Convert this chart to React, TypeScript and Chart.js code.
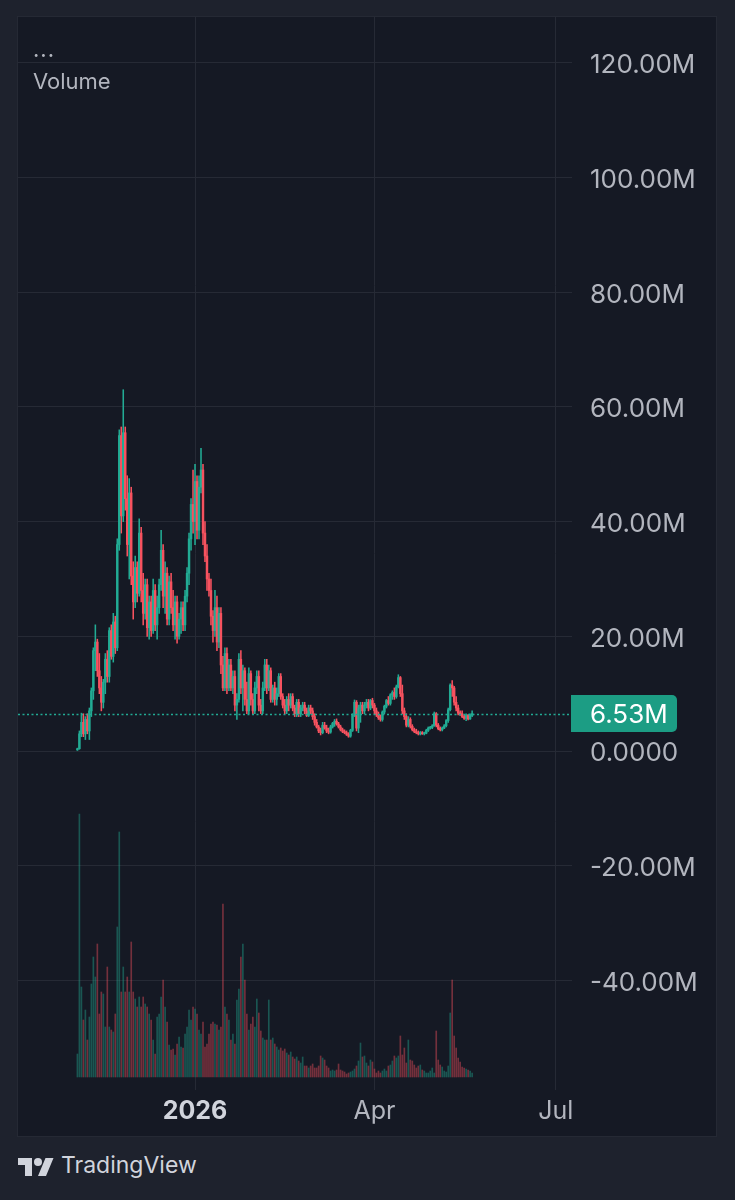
import React, { useEffect, useRef } from "react";
import { Chart, registerables } from "chart.js";

Chart.register(...registerables);

// Day offsets are counted from 1 Jan 2026 (day 0). First candle is day startDay.
const startDay = -59;

const opens = [
  0.2, 0.4, 3.0, 5.0, 3.0, 5.5, 3.5, 7.0, 10.5, 17.5,
  19.0, 14.0, 11.0, 8.5, 12.0, 16.0, 13.0, 21.0, 16.5, 22.5,
  18.0, 36.0, 55.0, 41.0, 55.5, 44.0, 36.0, 45.0, 30.5, 26.0,
  32.0, 27.5, 38.0, 28.0, 24.0, 29.0, 21.5, 26.0, 21.0, 28.0,
  22.0, 25.0, 29.0, 35.0, 27.0, 31.0, 23.0, 29.5, 25.0, 22.0,
  26.0, 20.0, 23.0, 25.0, 22.0, 27.0, 31.0, 37.0, 43.0, 40.0,
  47.0, 38.5, 46.0, 49.0, 38.0, 34.0, 30.0, 28.0, 23.5, 21.0,
  25.0, 19.0, 24.0, 15.0, 11.0, 17.0, 11.0, 15.0, 11.0, 13.0,
  8.0, 9.0, 16.0, 11.0, 14.0, 9.0, 7.0, 13.5, 9.0, 7.0,
  11.0, 13.0, 8.0, 7.0, 11.0, 15.0, 11.0, 14.0, 9.0, 11.0,
  9.0, 10.0, 13.0, 9.5, 8.0, 7.0, 9.0, 8.0, 9.5, 7.5,
  6.5, 8.5, 6.5, 7.5, 8.0, 7.0, 6.2, 7.5, 7.0, 6.0,
  5.0, 4.2, 3.5, 3.2, 4.5, 4.0, 3.5, 3.3, 4.2, 4.8,
  5.2, 4.7, 4.2, 3.7, 3.4, 3.2, 2.9, 2.6, 3.6, 6.2,
  8.5, 4.0, 7.5, 8.0, 7.0, 8.0, 8.5, 7.5, 8.8, 8.0,
  7.0, 6.3, 5.8, 5.5, 6.8, 7.8, 8.8, 8.3, 9.8, 10.2,
  9.5, 11.2, 12.8, 10.0, 7.0, 6.0, 4.5, 5.5, 4.3, 3.7,
  3.4, 3.2, 3.0, 3.2, 3.0, 3.1, 3.6, 4.0, 4.1, 4.4,
  6.5, 4.5, 3.9, 3.7, 4.0, 4.4, 5.3, 7.2, 11.5, 11.0,
  8.5, 7.5, 6.6, 6.5, 6.0, 5.7, 6.2, 5.6, 6.2,
];

const highs = [
  0.5, 3.5, 6.6, 6.5, 6.0, 6.5, 7.5, 11.0, 18.0, 22.0,
  19.5, 17.0, 13.0, 12.5, 17.0, 17.5, 21.5, 22.0, 24.0, 23.5,
  37.0, 56.0, 56.5, 63.0, 56.5, 48.0, 47.5, 46.0, 33.0, 34.0,
  33.0, 40.5, 39.0, 31.0, 30.0, 30.0, 27.0, 27.0, 30.0, 29.0,
  27.0, 30.0, 38.5, 36.0, 33.0, 32.0, 30.5, 31.0, 28.0, 27.0,
  27.0, 24.0, 26.0, 26.0, 28.0, 32.0, 38.0, 44.0, 49.0, 50.0,
  48.0, 48.0, 52.8, 50.0, 40.0, 36.0, 31.0, 30.0, 24.5, 28.0,
  27.0, 25.0, 25.0, 16.5, 18.0, 18.0, 16.0, 16.0, 14.0, 14.0,
  10.0, 17.0, 17.5, 15.0, 14.5, 12.0, 14.5, 14.0, 10.0, 12.0,
  14.0, 14.0, 9.0, 12.0, 16.0, 16.0, 15.0, 14.5, 11.5, 12.0,
  11.0, 13.5, 13.5, 10.0, 9.0, 9.5, 10.0, 10.0, 10.0, 8.0,
  9.0, 9.0, 8.0, 8.5, 8.5, 7.5, 8.0, 8.0, 7.5, 6.5,
  5.5, 4.5, 4.0, 5.0, 5.0, 4.5, 4.0, 4.5, 5.0, 5.5,
  5.6, 5.0, 4.5, 4.0, 3.7, 3.5, 3.2, 3.8, 6.5, 8.9,
  8.8, 8.0, 8.5, 8.5, 8.5, 9.0, 9.0, 9.0, 9.2, 8.3,
  7.5, 6.8, 6.3, 7.0, 8.0, 9.0, 9.5, 10.0, 10.5, 11.0,
  11.5, 13.3, 13.0, 11.5, 7.5, 6.5, 6.0, 5.8, 4.6, 4.0,
  3.8, 3.5, 3.4, 3.4, 3.3, 3.8, 4.2, 4.3, 4.6, 6.8,
  6.7, 4.8, 4.2, 4.2, 4.6, 5.5, 7.5, 11.7, 12.3, 11.3,
  9.5, 8.0, 7.0, 7.0, 6.3, 6.5, 6.4, 6.5, 7.0,
];

const lows = [
  0.1, 0.3, 2.5, 2.5, 2.0, 3.0, 2.0, 6.0, 9.0, 14.0,
  13.0, 10.0, 7.0, 7.5, 10.0, 12.0, 12.0, 16.0, 15.5, 17.0,
  17.5, 35.0, 38.0, 40.0, 42.0, 34.0, 30.0, 29.0, 23.0, 25.0,
  26.0, 27.0, 26.0, 22.0, 23.0, 20.0, 19.5, 20.0, 20.5, 21.0,
  19.5, 24.0, 28.0, 25.0, 24.0, 22.0, 22.0, 24.0, 21.0, 19.5,
  18.8, 19.5, 20.5, 21.0, 21.0, 26.0, 29.0, 35.0, 38.0, 36.0,
  37.0, 37.0, 45.0, 36.0, 33.0, 28.0, 27.0, 22.0, 19.0, 20.0,
  17.5, 18.0, 13.5, 10.5, 10.5, 10.0, 10.5, 10.5, 10.0, 7.0,
  5.5, 8.5, 10.0, 7.0, 8.0, 6.5, 6.5, 8.0, 6.5, 6.5,
  10.0, 7.0, 6.5, 6.5, 10.5, 10.0, 10.5, 8.5, 8.5, 8.0,
  8.0, 9.5, 9.0, 7.5, 6.5, 6.5, 7.0, 7.5, 7.0, 6.0,
  6.0, 6.0, 6.0, 7.0, 6.5, 6.0, 6.0, 6.5, 5.5, 4.5,
  4.0, 3.2, 2.8, 3.0, 3.8, 3.2, 3.0, 3.1, 4.0, 4.3,
  4.5, 4.0, 3.5, 3.2, 3.0, 2.7, 2.4, 2.4, 3.4, 6.0,
  3.5, 3.2, 5.0, 6.5, 6.5, 7.5, 7.0, 7.2, 7.5, 6.5,
  6.0, 5.5, 5.2, 5.2, 6.5, 7.5, 8.0, 8.0, 9.0, 9.0,
  9.2, 11.0, 9.5, 6.5, 5.5, 4.2, 4.2, 4.0, 3.5, 3.2,
  3.0, 2.8, 2.8, 2.9, 2.8, 3.0, 3.4, 3.8, 3.9, 4.3,
  4.2, 3.7, 3.5, 3.5, 3.9, 4.2, 5.0, 7.0, 9.5, 8.0,
  7.0, 6.3, 6.2, 5.8, 5.5, 5.3, 5.4, 5.5, 6.0,
];

const closes = [
  0.4, 3.0, 5.0, 3.0, 5.5, 3.5, 7.0, 10.5, 17.5, 19.0,
  14.0, 11.0, 8.5, 12.0, 16.0, 13.0, 21.0, 16.5, 22.5, 18.0,
  36.0, 55.0, 41.0, 55.5, 44.0, 36.0, 45.0, 30.5, 26.0, 32.0,
  27.5, 38.0, 28.0, 24.0, 29.0, 21.5, 26.0, 21.0, 28.0, 22.0,
  25.0, 29.0, 35.0, 27.0, 31.0, 23.0, 29.5, 25.0, 22.0, 26.0,
  20.0, 23.0, 25.0, 22.0, 27.0, 31.0, 37.0, 43.0, 40.0, 47.0,
  38.5, 46.0, 49.0, 38.0, 34.0, 30.0, 28.0, 23.5, 21.0, 25.0,
  19.0, 24.0, 15.0, 11.0, 17.0, 11.0, 15.0, 11.0, 13.0, 8.0,
  9.0, 16.0, 11.0, 14.0, 9.0, 7.0, 13.5, 9.0, 7.0, 11.0,
  13.0, 8.0, 7.0, 11.0, 15.0, 11.0, 14.0, 9.0, 11.0, 9.0,
  10.0, 13.0, 9.5, 8.0, 7.0, 9.0, 8.0, 9.5, 7.5, 6.5,
  8.5, 6.5, 7.5, 8.0, 7.0, 6.2, 7.5, 7.0, 6.0, 5.0,
  4.2, 3.5, 3.2, 4.5, 4.0, 3.5, 3.3, 4.2, 4.8, 5.2,
  4.7, 4.2, 3.7, 3.4, 3.2, 2.9, 2.6, 3.6, 6.2, 8.5,
  4.0, 7.5, 8.0, 7.0, 8.0, 8.5, 7.5, 8.8, 8.0, 7.0,
  6.3, 5.8, 5.5, 6.8, 7.8, 8.8, 8.3, 9.8, 10.2, 9.5,
  11.2, 12.8, 10.0, 7.0, 6.0, 4.5, 5.5, 4.3, 3.7, 3.4,
  3.2, 3.0, 3.2, 3.0, 3.1, 3.6, 4.0, 4.1, 4.4, 6.5,
  4.5, 3.9, 3.7, 4.0, 4.4, 5.3, 7.2, 11.5, 11.0, 8.5,
  7.5, 6.6, 6.5, 6.0, 5.7, 6.2, 5.6, 6.2, 6.53,
];

// Volume, in millions (own overlay scale at the bottom)
const volumes = [
  2.3, 26.3, 9.0, 5.7, 6.7, 3.7, 6.0, 9.3, 12.0, 10.0,
  13.3, 6.3, 8.5, 8.3, 5.0, 11.0, 5.0, 4.7, 4.5, 6.3,
  15.0, 24.5, 8.5, 11.0, 8.5, 10.0, 8.5, 13.5, 8.5, 7.8,
  7.0, 8.0, 7.0, 8.0, 7.3, 7.0, 6.3, 5.7, 3.7, 2.3,
  6.0, 6.3, 8.0, 9.7, 7.0, 5.5, 3.2, 2.7, 2.8, 2.2,
  3.3, 4.0, 3.0, 2.9, 4.3, 5.0, 6.7, 5.7, 7.0, 6.8,
  6.3, 4.7, 4.3, 5.5, 3.0, 3.3, 4.3, 5.3, 5.5, 5.3,
  5.2, 4.7, 5.0, 17.3, 7.0, 6.3, 5.7, 3.7, 4.3, 3.3,
  7.7, 8.8, 12.0, 13.3, 9.7, 6.3, 4.7, 5.3, 6.0, 5.0,
  7.8, 6.4, 4.6, 3.9, 3.7, 3.7, 7.7, 3.7, 3.9, 3.3,
  3.0, 2.7, 2.9, 2.6, 2.8, 2.4, 2.2, 2.5, 2.0, 1.8,
  2.0, 1.6, 1.4, 2.0, 1.1, 1.1, 0.9, 1.1, 1.3, 0.9,
  0.9, 1.1, 2.1, 1.9, 1.7, 1.1, 0.9, 0.6, 0.7, 0.6,
  0.7, 1.3, 0.7, 0.6, 0.5, 0.3, 0.4, 0.5, 0.6, 0.8,
  1.1, 1.6, 3.4, 2.0, 2.1, 1.4, 1.1, 1.7, 1.5, 0.8,
  0.4, 0.6, 0.4, 0.6, 0.8, 0.6, 1.1, 1.2, 1.6, 2.1,
  1.9, 2.1, 4.1, 2.2, 2.9, 1.4, 3.7, 1.7, 1.6, 1.2,
  0.9, 1.1, 1.2, 0.7, 0.6, 0.4, 0.4, 0.6, 0.9, 0.4,
  4.6, 1.7, 1.2, 1.0, 0.6, 0.5, 1.1, 6.4, 9.7, 4.1,
  2.9, 1.9, 1.5, 1.0, 0.9, 0.8, 0.7, 0.6, 0.4,
];

const xTickDays = [0, 90, 181];
const xTickLabels = ["2026", "Apr", "Jul"];
const yTickValues = [-40, -20, 0, 20, 40, 60, 80, 100, 120];

const UP = "#22ab94";
const DOWN = "#f7525f";
const UP_VOL = "rgba(34,171,148,0.42)";
const DOWN_VOL = "rgba(247,82,95,0.42)";
const GRID = "#262a35";
const AXIS_TEXT = "#b2b5be";
const FONT = "Inter, 'Noto Sans', sans-serif";

const fmtY = (v: number) => (v === 0 ? "0.0000" : v.toFixed(2) + "M");

const lastPricePlugin = {
  id: "lastPrice",
  afterDatasetsDraw(chart: any) {
    const { ctx, chartArea } = chart;
    const last = closes[closes.length - 1];
    const y = Math.round(chart.scales.y.getPixelForValue(last)) + 0.5;
    ctx.save();
    ctx.strokeStyle = UP;
    ctx.lineWidth = 1.5;
    ctx.setLineDash([2, 2.5]);
    ctx.beginPath();
    ctx.moveTo(chartArea.left, y);
    ctx.lineTo(chartArea.right, y);
    ctx.stroke();
    ctx.restore();
  },
  afterDraw(chart: any) {
    const { ctx, chartArea } = chart;
    const last = closes[closes.length - 1];
    const y = chart.scales.y.getPixelForValue(last);
    ctx.save();
    ctx.fillStyle = "#1c9d84";
    ctx.beginPath();
    (ctx as any).roundRect(chartArea.right - 1, y - 18.5, 106, 37, [0, 5, 5, 0]);
    ctx.fill();
    ctx.fillStyle = "#ffffff";
    ctx.font = `26px ${FONT}`;
    ctx.textAlign = "left";
    ctx.textBaseline = "middle";
    ctx.fillText(fmtY(last), chartArea.right + 18, y + 1.5);
    ctx.restore();
  },
};

export default function App() {
  const canvasRef = useRef<HTMLCanvasElement | null>(null);

  useEffect(() => {
    let chart: Chart | null = null;
    let cancelled = false;

    const build = () => {
      if (cancelled || !canvasRef.current) return;
      const days = closes.map((_, i) => startDay + i);
      const isUp = closes.map((c, i) => c >= opens[i]);

      chart = new Chart(canvasRef.current, {
        type: "bar",
        data: {
          datasets: [
            {
              label: "Bodies",
              data: days.map((d, i) => ({
                x: d,
                y: [Math.min(opens[i], closes[i]), Math.max(opens[i], closes[i])],
              })) as any,
              backgroundColor: isUp.map((u) => (u ? UP : DOWN)),
              barThickness: 1.8,
              minBarLength: 1,
              grouped: false,
              borderWidth: 0,
              yAxisID: "y",
              order: 1,
            },
            {
              label: "Wicks",
              data: days.map((d, i) => ({ x: d, y: [lows[i], highs[i]] })) as any,
              backgroundColor: isUp.map((u) => (u ? UP : DOWN)),
              barThickness: 0.9,
              grouped: false,
              borderWidth: 0,
              yAxisID: "y",
              order: 2,
            },
            {
              label: "Volume",
              data: days.map((d, i) => ({ x: d, y: volumes[i] })) as any,
              backgroundColor: isUp.map((u) => (u ? UP_VOL : DOWN_VOL)),
              barThickness: 1,
              grouped: false,
              borderWidth: 0,
              yAxisID: "y2",
              order: 3,
            },
          ],
        },
        options: {
          animation: false,
          responsive: true,
          maintainAspectRatio: false,
          events: [],
          layout: { padding: 0 },
          plugins: {
            legend: { display: false },
            tooltip: { enabled: false },
          },
          scales: {
            x: {
              type: "linear",
              min: -88.8,
              max: 189.1,
              offset: false,
              grid: { color: GRID, drawTicks: false, offset: false, lineWidth: 1 },
              border: { display: false },
              afterBuildTicks: (s: any) => {
                s.ticks = xTickDays.map((v) => ({ value: v }));
              },
              afterFit: (s: any) => {
                s.height = 46;
                s.paddingLeft = 0;
                s.paddingRight = 0;
              },
              ticks: {
                autoSkip: false,
                maxRotation: 0,
                padding: 6,
                color: (c: any) => (c.index === 0 ? "#d1d4dc" : AXIS_TEXT),
                font: (c: any) => ({
                  family: FONT,
                  size: 25,
                  weight: c.index === 0 ? "bold" : "normal",
                }),
                callback: (_v: any, i: number) => xTickLabels[i],
              },
            },
            y: {
              type: "linear",
              position: "right",
              min: -59.11,
              max: 127.99,
              grid: { color: GRID, drawTicks: false, lineWidth: 1 },
              border: { display: false },
              afterBuildTicks: (s: any) => {
                s.ticks = yTickValues.map((v) => ({ value: v }));
              },
              afterFit: (s: any) => {
                s.width = 144;
                s.paddingTop = 0;
                s.paddingBottom = 0;
              },
              ticks: {
                padding: 18,
                labelOffset: 2.5,
                color: AXIS_TEXT,
                font: { family: FONT, size: 26 },
                callback: (v: any) => fmtY(Number(v)),
              },
            },
            y2: {
              type: "linear",
              display: false,
              min: -1.3,
              max: 106,
              grid: { display: false },
            },
          },
        },
        plugins: [lastPricePlugin],
      });
    };

    const fontsReady = (document as any).fonts
      ? Promise.all([
          (document as any).fonts.load(`26px Inter`),
          (document as any).fonts.load(`bold 25px Inter`),
        ]).catch(() => null)
      : Promise.resolve(null);
    fontsReady.then(build);

    return () => {
      cancelled = true;
      if (chart) chart.destroy();
    };
  }, []);

  return (
    <div
      style={{
        position: "absolute",
        left: 0,
        top: 0,
        width: 735,
        height: 1200,
        background: "#1e222d",
        fontFamily: FONT,
        overflow: "hidden",
      }}
    >
      <div
        style={{
          position: "absolute",
          left: 18,
          top: 17,
          width: 698,
          height: 1119,
          background: "#151924",
          boxShadow: "0 0 0 1px #252934",
        }}
      />
      <div style={{ position: "absolute", left: 18, top: 17, width: 698, height: 1119 }}>
        <canvas ref={canvasRef} />
      </div>
      <div
        style={{
          position: "absolute",
          left: 33,
          top: 38,
          fontSize: 22,
          lineHeight: "22px",
          color: AXIS_TEXT,
          letterSpacing: 1,
        }}
      >
        ...
      </div>
      <div
        style={{
          position: "absolute",
          left: 33,
          top: 70,
          fontSize: 22,
          lineHeight: "22px",
          color: AXIS_TEXT,
        }}
      >
        Volume
      </div>
      <svg
        style={{ position: "absolute", left: 18, top: 1154 }}
        width={36}
        height={28}
        viewBox="0 0 36 28"
      >
        <path d="M14 22H7V11H0V4h14v18zM28 22h-8l7.5-18h8L28 22z" fill="#d1d4dc" />
        <circle cx="20" cy="8" r="4" fill="#d1d4dc" />
      </svg>
      <div
        style={{
          position: "absolute",
          left: 61,
          top: 1154,
          fontSize: 23,
          lineHeight: "23px",
          color: "#d1d4dc",
        }}
      >
        TradingView
      </div>
    </div>
  );
}
